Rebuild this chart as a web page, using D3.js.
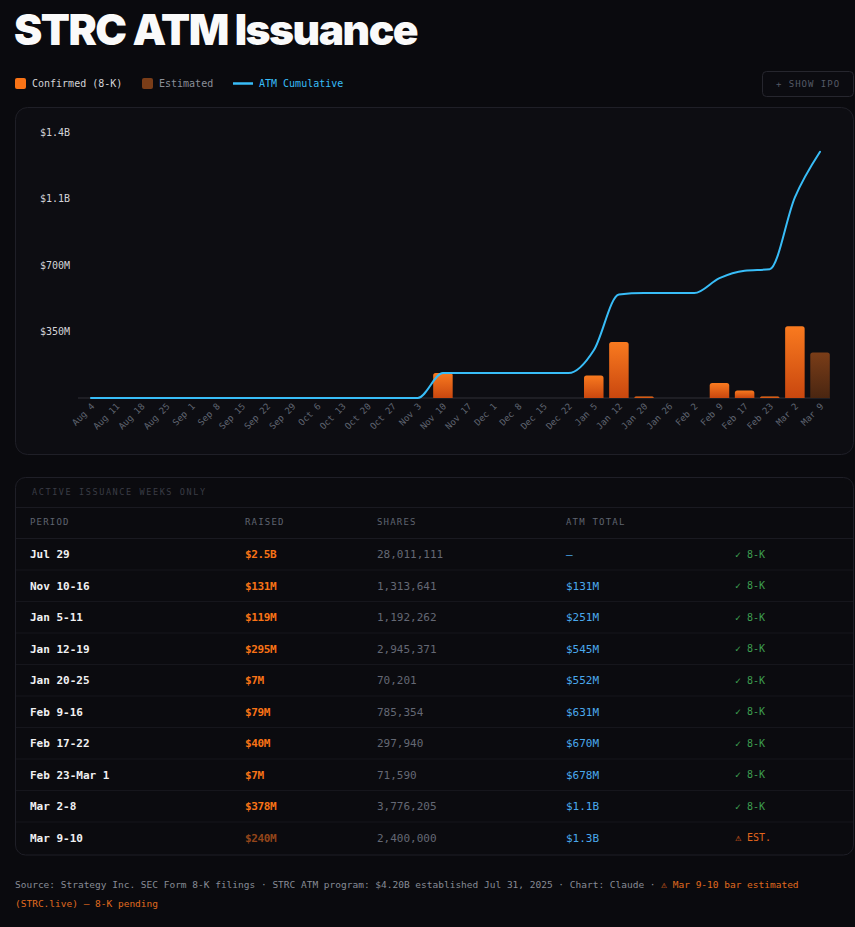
<!DOCTYPE html>
<html>
<head>
<meta charset="utf-8">
<script src="https://cdn.jsdelivr.net/npm/d3@7"></script>
<style>
  html, body { margin: 0; padding: 0; background: #0a0a0e; }
  svg { display: block; }
  text { font-family: "DejaVu Sans Mono", "Liberation Mono", monospace; }
</style>
</head>
<body>
<svg id="chart" width="855" height="927"></svg>
<script>
// ---------- DATA ----------
const weeks = ["Aug 4","Aug 11","Aug 18","Aug 25","Sep 1","Sep 8","Sep 15","Sep 22","Sep 29","Oct 6","Oct 13","Oct 20","Oct 27","Nov 3","Nov 10","Nov 17","Dec 1","Dec 8","Dec 15","Dec 22","Jan 5","Jan 12","Jan 20","Jan 26","Feb 2","Feb 9","Feb 17","Feb 23","Mar 2","Mar 9"];
// weekly raised, $M (confirmed via 8-K)
const confirmed = [0,0,0,0,0,0,0,0,0,0,0,0,0,0,131,0,0,0,0,0,119,295,7,0,0,79,40,7,378,0];
// weekly raised, $M (estimated)
const estimated = [0,0,0,0,0,0,0,0,0,0,0,0,0,0,0,0,0,0,0,0,0,0,0,0,0,0,0,0,0,240];
// ATM cumulative, $M
const cumulative = [0,0,0,0,0,0,0,0,0,0,0,0,0,0,131,131,131,131,131,131,251,545,552,552,552,631,670,678,1056,1296];
const yTickValues = [350, 700, 1050, 1400];
const yTickLabels = ["$350M", "$700M", "$1.1B", "$1.4B"];

// table
const periods = ["Jul 29","Nov 10-16","Jan 5-11","Jan 12-19","Jan 20-25","Feb 9-16","Feb 17-22","Feb 23-Mar 1","Mar 2-8","Mar 9-10"];
const raised = ["$2.5B","$131M","$119M","$295M","$7M","$79M","$40M","$7M","$378M","$240M"];
const shares = ["28,011,111","1,313,641","1,192,262","2,945,371","70,201","785,354","297,940","71,590","3,776,205","2,400,000"];
const atmTotal = ["—","$131M","$251M","$545M","$552M","$631M","$670M","$678M","$1.1B","$1.3B"];
const status = ["✓ 8-K","✓ 8-K","✓ 8-K","✓ 8-K","✓ 8-K","✓ 8-K","✓ 8-K","✓ 8-K","✓ 8-K","⚠ EST."];
const tableHeaders = ["PERIOD","RAISED","SHARES","ATM TOTAL"];

// ---------- COLORS ----------
const C = {
  bg: "#0a0a0e", card: "#0d0d12", border: "#1f1f27",
  orange: "#f97316", orangeDark: "#c9470f",
  est: "#7a3d18", estDark: "#4a2611",
  blue: "#38bdf8", text: "#e4e4e7", muted: "#6b7280"
};

const svg = d3.select("#chart");

// defs: gradients
const defs = svg.append("defs");
const g1 = defs.append("linearGradient").attr("id","gConf").attr("x1",0).attr("y1",0).attr("x2",0).attr("y2",1);
g1.append("stop").attr("offset","0%").attr("stop-color","#f97a1f");
g1.append("stop").attr("offset","100%").attr("stop-color",C.orangeDark);
const g2 = defs.append("linearGradient").attr("id","gEst").attr("x1",0).attr("y1",0).attr("x2",0).attr("y2",1);
g2.append("stop").attr("offset","0%").attr("stop-color",C.est);
g2.append("stop").attr("offset","100%").attr("stop-color",C.estDark);

// ---------- TITLE ----------
svg.append("text").attr("x", 14).attr("y", 45)
  .text("STRC ATM Issuance")
  .style("font-family", "Inter, 'Noto Sans', sans-serif")
  .style("font-weight", 900).style("font-size", "42.5px")
  .style("letter-spacing", "-1.5px")
  .attr("fill", "#fafafa");

// ---------- LEGEND ----------
const leg = svg.append("g").style("font-size", "10px");
leg.append("rect").attr("x",15).attr("y",78).attr("width",11).attr("height",11).attr("rx",2).attr("fill",C.orange);
leg.append("text").attr("x",32).attr("y",87).text("Confirmed (8-K)").attr("fill","#d4d4d8");
leg.append("rect").attr("x",142).attr("y",78).attr("width",11).attr("height",11).attr("rx",2).attr("fill",C.est);
leg.append("text").attr("x",159).attr("y",87).text("Estimated").attr("fill","#8b8f99");
leg.append("line").attr("x1",233).attr("x2",253).attr("y1",83.5).attr("y2",83.5).attr("stroke",C.blue).attr("stroke-width",2.5);
leg.append("text").attr("x",259).attr("y",87).text("ATM Cumulative").attr("fill",C.blue);

// button
svg.append("rect").attr("x",762.5).attr("y",71.5).attr("width",91).attr("height",25).attr("rx",4)
  .attr("fill","#0b0b10").attr("stroke","#26262e");
svg.append("text").attr("x",808).attr("y",87).attr("text-anchor","middle")
  .style("font-size","9px").style("letter-spacing","1px").attr("fill","#555a66").text("+ SHOW IPO");

// ---------- CHART CARD ----------
svg.append("rect").attr("x",15.5).attr("y",107.5).attr("width",838).attr("height",347).attr("rx",12)
  .attr("fill",C.card).attr("stroke",C.border);

const x = d3.scaleBand().domain(weeks).range([78.7, 832.3]).paddingInner(0.224).paddingOuter(0.1);
const y = d3.scaleLinear().domain([0, 1400]).range([398, 132]);

// baseline
svg.append("line").attr("x1",78).attr("x2",830).attr("y1",y(0)).attr("y2",y(0))
  .attr("stroke","#24242b").attr("stroke-width",1.5);

// y axis
const yAxis = svg.append("g").attr("transform","translate(40,0)")
  .call(d3.axisLeft(y).tickValues(yTickValues).tickSize(0).tickFormat((d,i) => yTickLabels[i]));
yAxis.select(".domain").remove();
yAxis.selectAll("text").attr("x",0).attr("text-anchor","start")
  .style("font-size","10px").style("font-family","'DejaVu Sans Mono', monospace").attr("fill","#d4d4d8");

// x axis
const xAxis = svg.append("g").attr("transform",`translate(0,${y(0)})`)
  .call(d3.axisBottom(x).tickSize(0).tickPadding(0));
xAxis.select(".domain").remove();
xAxis.selectAll("text")
  .attr("text-anchor","end").attr("dy",0).attr("y",0)
  .attr("transform","translate(4,9) rotate(-45)")
  .style("font-size","9px").style("font-family","'DejaVu Sans Mono', monospace").attr("fill","#5f6470");

// bars (rounded top)
function barPath(x0, w, yTop, yBot, r) {
  r = Math.min(r, (yBot - yTop), w / 2);
  return `M${x0},${yBot}V${yTop + r}Q${x0},${yTop} ${x0 + r},${yTop}H${x0 + w - r}Q${x0 + w},${yTop} ${x0 + w},${yTop + r}V${yBot}Z`;
}
svg.append("g").selectAll("path.conf")
  .data(weeks.map((w, i) => ({ w, v: confirmed[i] })).filter(d => d.v > 0))
  .join("path").attr("class","conf")
  .attr("d", d => barPath(x(d.w), x.bandwidth(), Math.min(y(d.v), y(0) - 1.5), y(0), 2.5))
  .attr("fill","url(#gConf)");
svg.append("g").selectAll("path.est")
  .data(weeks.map((w, i) => ({ w, v: estimated[i] })).filter(d => d.v > 0))
  .join("path").attr("class","est")
  .attr("d", d => barPath(x(d.w), x.bandwidth(), y(d.v), y(0), 2.5))
  .attr("fill","url(#gEst)");

// cumulative line
const line = d3.line()
  .x((d, i) => x(weeks[i]) + x.bandwidth() / 2)
  .y(d => y(d))
  .curve(d3.curveMonotoneX);
svg.append("path").datum(cumulative).attr("d", line)
  .attr("fill","none").attr("stroke",C.blue).attr("stroke-width",2).attr("stroke-linecap","round");

// ---------- TABLE ----------
const tTop = 477.5, tBot = 855;
svg.append("rect").attr("x",15.5).attr("y",tTop).attr("width",838).attr("height",tBot - tTop).attr("rx",10)
  .attr("fill","#0b0b0f").attr("stroke",C.border);
svg.append("text").attr("x",32).attr("y",494.5).text("ACTIVE ISSUANCE WEEKS ONLY")
  .style("font-size","8.5px").style("letter-spacing","1.6px").attr("fill","#3a3c45");
svg.append("line").attr("x1",16).attr("x2",853).attr("y1",507.5).attr("y2",507.5).attr("stroke","#1a1a21");
const colX = [30, 245, 377, 566, 735];
tableHeaders.forEach((h, i) => {
  svg.append("text").attr("x", colX[i]).attr("y", 524.5).text(h)
    .style("font-size","9px").style("letter-spacing","1.2px").attr("fill","#5f6470");
});
svg.append("line").attr("x1",16).attr("x2",853).attr("y1",538.5).attr("y2",538.5).attr("stroke","#1a1a21");

const rowH = 31.5, row0 = 538.5;
periods.forEach((p, i) => {
  const cy = row0 + rowH * i + rowH / 2 + 4;
  const last = i === periods.length - 1;
  if (!last) svg.append("line").attr("x1",16).attr("x2",853)
    .attr("y1", row0 + rowH * (i + 1)).attr("y2", row0 + rowH * (i + 1)).attr("stroke","#16161c");
  svg.append("text").attr("x",colX[0]).attr("y",cy).text(p)
    .style("font-size","11px").style("font-weight","bold").attr("fill","#f1f1f3");
  svg.append("text").attr("x",colX[1]).attr("y",cy).text(raised[i])
    .style("font-size","11px").style("font-weight","bold").style("letter-spacing","-0.4px")
    .attr("fill", last ? "#93451a" : "#f97316");
  svg.append("text").attr("x",colX[2]).attr("y",cy).text(shares[i])
    .style("font-size","11px").attr("fill","#646874");
  svg.append("text").attr("x",colX[3]).attr("y",cy).text(atmTotal[i])
    .style("font-size","11px").attr("fill","#4aa8ec");
  svg.append("text").attr("x",colX[4]).attr("y",cy - 0.5).text(status[i])
    .style("font-size","10px").attr("fill", last ? "#e2651c" : "#3d9e4f");
});

// ---------- FOOTER ----------
const f1 = svg.append("text").attr("x",15).attr("y",887.5).style("font-size","9.5px");
f1.append("tspan").attr("fill","#878b95")
  .text("Source: Strategy Inc. SEC Form 8-K filings · STRC ATM program: $4.20B established Jul 31, 2025 · Chart: Claude · ");
f1.append("tspan").attr("fill","#e06b1f").text("⚠ Mar 9-10 bar estimated");
svg.append("text").attr("x",15).attr("y",906.5).style("font-size","9.5px").attr("fill","#e06b1f")
  .text("(STRC.live) — 8-K pending");
</script>
</body>
</html>
